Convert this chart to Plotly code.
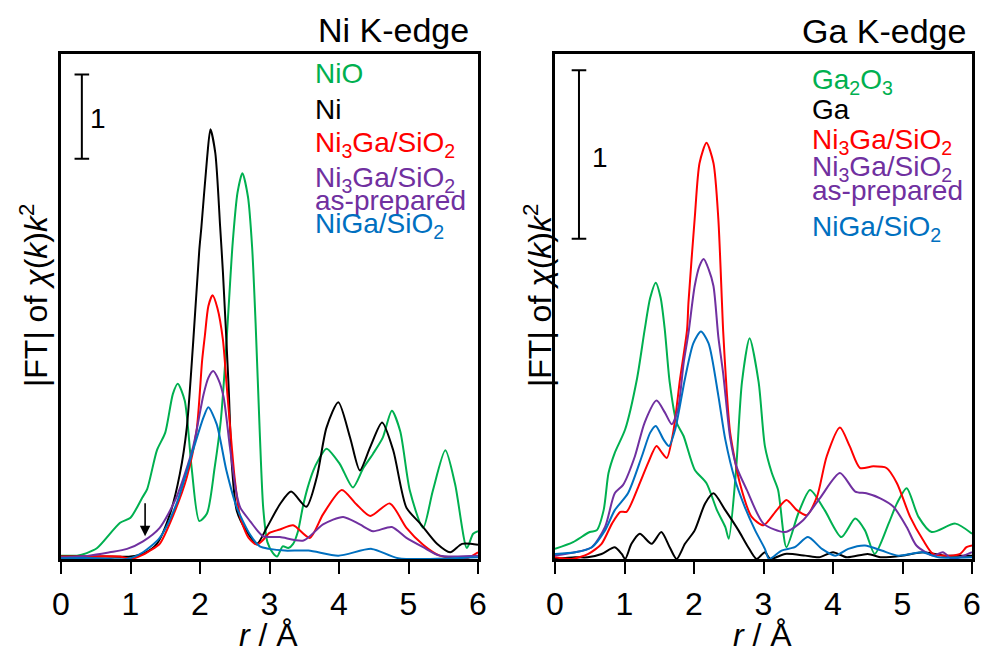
import plotly.graph_objects as go

# ---------------- Ni K-edge (left panel) ----------------
ni_nio_r = [0.0, 0.23, 0.37, 0.52, 0.85, 1.0, 1.17, 1.24, 1.38, 1.5, 1.61, 1.68, 1.78, 1.88, 1.99, 2.10,
            2.21, 2.30, 2.36, 2.42, 2.47, 2.54, 2.61, 2.69, 2.75, 2.80, 2.86, 2.91, 2.97, 3.05, 3.11, 3.19,
            3.27, 3.34, 3.41, 3.48, 3.55, 3.63, 3.70, 3.82, 4.01, 4.20, 4.35, 4.49, 4.63, 4.76, 4.88, 5.02,
            5.21, 5.35, 5.53, 5.67, 5.84, 5.93, 6.0]
ni_nio_y = [0.04, 0.04, 0.07, 0.13, 0.43, 0.49, 0.73, 0.83, 1.29, 1.50, 1.96, 2.08, 1.88, 1.08, 0.45, 0.54,
            1.08, 1.65, 2.30, 3.10, 3.75, 4.35, 4.58, 4.30, 3.70, 2.80, 1.50, 0.60, 0.20, 0.07, 0.03, 0.15,
            0.13, 0.18, 0.33, 0.62, 0.85, 1.05, 1.17, 1.31, 1.13, 0.85, 1.08, 1.25, 1.44, 1.76, 1.52, 0.81,
            0.37, 0.81, 1.29, 0.89, 0.13, 0.30, 0.33]

ni_ni_r = [0.0, 0.5, 1.0, 1.2, 1.38, 1.57, 1.71, 1.81, 1.90, 1.99, 2.02, 2.10, 2.15, 2.22, 2.29, 2.33,
           2.41, 2.46, 2.53, 2.67, 2.82, 2.96, 3.15, 3.31, 3.53, 3.68, 3.82, 3.99, 4.16, 4.30, 4.45, 4.62,
           4.78, 4.97, 5.17, 5.41, 5.60, 5.77, 6.0]
ni_ni_y = [0.03, 0.03, 0.03, 0.07, 0.18, 0.54, 1.01, 1.56, 2.55, 3.67, 3.94, 4.74, 5.10, 4.82, 3.94, 3.40,
           2.08, 1.10, 0.57, 0.33, 0.18, 0.37, 0.65, 0.80, 0.62, 0.97, 1.56, 1.86, 1.44, 1.05, 1.33, 1.62,
           1.29, 0.61, 0.42, 0.18, 0.08, 0.18, 0.17]

ni_ni3ga_r = [0.0, 0.5, 0.85, 1.0, 1.15, 1.28, 1.42, 1.62, 1.81, 1.95, 2.03, 2.07, 2.12, 2.18, 2.25, 2.33,
              2.38, 2.44, 2.50, 2.58, 2.70, 2.82, 2.90, 3.0, 3.15, 3.34, 3.58, 3.77, 4.04, 4.25, 4.45, 4.73,
              4.97, 5.21, 5.45, 5.81, 6.0]
ni_ni3ga_y = [0.03, 0.03, 0.03, 0.0, 0.04, 0.10, 0.18, 0.53, 0.97, 1.52, 2.35, 2.65, 3.00, 3.13, 2.98, 2.60,
              2.10, 1.50, 0.95, 0.49, 0.25, 0.17, 0.22, 0.31, 0.35, 0.40, 0.25, 0.53, 0.82, 0.65, 0.51, 0.66,
              0.37, 0.17, 0.04, 0.0, 0.08]

ni_asprep_r = [0.0, 0.4, 0.7, 0.95, 1.18, 1.42, 1.66, 1.90, 2.05, 2.12, 2.19, 2.27, 2.34, 2.43, 2.52, 2.58,
               2.72, 2.91, 3.15, 3.49, 3.77, 4.06, 4.30, 4.49, 4.76, 4.97, 5.21, 5.45, 6.0]
ni_asprep_y = [0.02, 0.04, 0.08, 0.12, 0.21, 0.37, 0.73, 1.33, 1.95, 2.15, 2.23, 2.12, 1.92, 1.33, 0.80, 0.61,
               0.45, 0.27, 0.26, 0.22, 0.41, 0.50, 0.41, 0.33, 0.38, 0.25, 0.14, 0.04, 0.04]

ni_niga_r = [0.0, 0.5, 0.95, 1.18, 1.42, 1.66, 1.90, 2.05, 2.12, 2.24, 2.38, 2.53, 2.72, 2.86, 3.0, 3.22,
             3.56, 3.99, 4.47, 4.85, 6.0]
ni_niga_y = [0.01, 0.01, 0.0, 0.08, 0.25, 0.65, 1.29, 1.68, 1.80, 1.60, 1.05, 0.61, 0.29, 0.15, 0.12, 0.10,
             0.10, 0.04, 0.12, 0.01, 0.02]

# ---------------- Ga K-edge (right panel) ----------------
ga_ga2o3_r = [0.0, 0.26, 0.5, 0.6, 0.70, 0.77, 0.86, 1.01, 1.18, 1.29, 1.37, 1.45, 1.52, 1.58, 1.65, 1.75,
              1.85, 2.01, 2.18, 2.33, 2.45, 2.50, 2.60, 2.69, 2.80, 2.93, 3.02, 3.12, 3.21, 3.33, 3.50, 3.67,
              3.88, 4.12, 4.32, 4.46, 4.60, 4.80, 4.92, 5.06, 5.23, 5.42, 5.76, 6.0]
ga_ga2o3_y = [0.06, 0.10, 0.16, 0.17, 0.29, 0.51, 0.63, 0.77, 1.07, 1.36, 1.55, 1.64, 1.55, 1.36, 1.05, 0.81,
              0.73, 0.53, 0.45, 0.29, 0.19, 0.12, 0.50, 1.05, 1.31, 1.05, 0.67, 0.51, 0.41, 0.07, 0.27, 0.41,
              0.29, 0.13, 0.24, 0.17, 0.03, 0.21, 0.33, 0.42, 0.25, 0.16, 0.21, 0.15]

ga_ga_r = [0.0, 0.29, 0.47, 0.67, 0.86, 0.96, 1.01, 1.10, 1.22, 1.39, 1.53, 1.65, 1.75, 1.87, 2.01, 2.16,
           2.28, 2.45, 2.64, 2.78, 2.90, 3.02, 3.10, 3.31, 3.60, 3.80, 4.0, 4.2, 4.5, 4.7, 5.0, 5.3, 5.6, 6.0]
ga_ga_y = [0.0, 0.01, 0.01, 0.03, 0.07, 0.03, 0.0, 0.09, 0.15, 0.09, 0.16, 0.07, 0.0, 0.09, 0.17, 0.33,
           0.39, 0.29, 0.17, 0.07, 0.0, 0.04, 0.0, 0.03, 0.02, 0.01, 0.04, 0.01, 0.03, 0.01, 0.02, 0.04, 0.02, 0.02]

ga_ni3ga_r = [0.0, 0.24, 0.48, 0.67, 0.82, 0.94, 1.03, 1.20, 1.34, 1.46, 1.54, 1.61, 1.70, 1.80, 1.90, 1.92,
              2.01, 2.08, 2.18, 2.28, 2.35, 2.42, 2.47, 2.52, 2.66, 2.83, 3.0, 3.19, 3.33, 3.48, 3.62, 3.77,
              3.91, 4.10, 4.24, 4.39, 4.58, 4.77, 4.92, 5.11, 5.30, 5.44, 5.68, 5.83, 5.92, 6.0]
ga_ni3ga_y = [0.01, 0.0, 0.03, 0.09, 0.21, 0.28, 0.28, 0.43, 0.57, 0.67, 0.63, 0.60, 0.75, 1.07, 1.36, 1.52,
              2.02, 2.35, 2.47, 2.35, 2.02, 1.35, 1.00, 0.75, 0.45, 0.25, 0.20, 0.29, 0.35, 0.29, 0.26, 0.37,
              0.61, 0.78, 0.67, 0.54, 0.55, 0.54, 0.45, 0.25, 0.11, 0.03, 0.02, 0.03, 0.07, 0.08]

ga_asprep_r = [0.0, 0.29, 0.53, 0.72, 0.86, 0.98, 1.15, 1.29, 1.46, 1.58, 1.68, 1.77, 1.85, 1.92, 2.01, 2.08,
               2.14, 2.21, 2.28, 2.35, 2.42, 2.52, 2.61, 2.76, 3.0, 3.31, 3.57, 3.81, 4.10, 4.32, 4.48, 4.68,
               4.87, 5.06, 5.20, 5.44, 5.58, 5.72, 6.0]
ga_asprep_y = [0.02, 0.04, 0.07, 0.19, 0.39, 0.44, 0.61, 0.81, 0.94, 0.87, 0.80, 0.89, 1.16, 1.34, 1.62, 1.74,
               1.78, 1.72, 1.62, 1.32, 1.10, 0.72, 0.55, 0.41, 0.21, 0.16, 0.23, 0.36, 0.51, 0.40, 0.39, 0.36,
               0.31, 0.19, 0.08, 0.02, 0.04, 0.0, 0.04]

ga_niga_r = [0.0, 0.29, 0.53, 0.72, 0.86, 1.05, 1.25, 1.37, 1.45, 1.56, 1.64, 1.73, 1.87, 1.99, 2.10, 2.21,
             2.35, 2.45, 2.59, 2.73, 2.88, 3.02, 3.08, 3.26, 3.45, 3.64, 3.84, 4.03, 4.22, 4.46, 4.70, 4.94,
             5.28, 5.52, 6.0]
ga_niga_y = [0.03, 0.04, 0.07, 0.17, 0.29, 0.39, 0.61, 0.75, 0.79, 0.71, 0.67, 0.77, 1.07, 1.28, 1.35, 1.28,
             0.97, 0.71, 0.47, 0.31, 0.17, 0.06, 0.0, 0.05, 0.07, 0.13, 0.06, 0.02, 0.06, 0.08, 0.05, 0.02,
             0.04, 0.01, 0.01]

x_ticks = [0, 1, 2, 3, 4, 5, 6]

GREEN = "#00B050"
BLACK = "#000000"
RED = "#FF0000"
PURPLE = "#7030A0"
BLUE = "#0070C0"
FONT = "Liberation Sans, Arial, sans-serif"

W, H = 986, 652


def px(x):
    return x / W


def py(y):
    return 1 - y / H


fig = go.Figure()

left_series = [
    (ni_nio_r, ni_nio_y, GREEN, "NiO"),
    (ni_ni_r, ni_ni_y, BLACK, "Ni"),
    (ni_ni3ga_r, ni_ni3ga_y, RED, "Ni3Ga/SiO2"),
    (ni_asprep_r, ni_asprep_y, PURPLE, "Ni3Ga/SiO2 as-prepared"),
    (ni_niga_r, ni_niga_y, BLUE, "NiGa/SiO2"),
]
right_series = [
    (ga_ga2o3_r, ga_ga2o3_y, GREEN, "Ga2O3"),
    (ga_ga_r, ga_ga_y, BLACK, "Ga"),
    (ga_ni3ga_r, ga_ni3ga_y, RED, "Ni3Ga/SiO2"),
    (ga_asprep_r, ga_asprep_y, PURPLE, "Ni3Ga/SiO2 as-prepared"),
    (ga_niga_r, ga_niga_y, BLUE, "NiGa/SiO2"),
]

for r, y, c, name in left_series:
    fig.add_trace(go.Scatter(x=r, y=y, mode="lines", name=name, xaxis="x", yaxis="y",
                             line=dict(color=c, width=2, shape="spline", smoothing=0.7),
                             showlegend=False))
for r, y, c, name in right_series:
    fig.add_trace(go.Scatter(x=r, y=y, mode="lines", name=name, xaxis="x2", yaxis="y2",
                             line=dict(color=c, width=2, shape="spline", smoothing=0.7),
                             showlegend=False))

ydom = [py(559), py(53.5)]
xaxis_common = dict(range=[0, 6], tickvals=x_ticks, ticks="outside", ticklen=12, tickwidth=2,
                    tickcolor="black", showline=True, mirror=True, linecolor="black", linewidth=2.5,
                    showgrid=False, zeroline=False, automargin=False, ticklabelstandoff=3,
                    tickfont=dict(family=FONT, size=32, color="black"))
yaxis_common = dict(showline=True, mirror=True, linecolor="black", linewidth=2.5, showgrid=False,
                    zeroline=False, showticklabels=False, ticks="", automargin=False)

fig.update_layout(
    width=W, height=H, margin=dict(l=0, r=0, t=0, b=0, pad=0),
    paper_bgcolor="white", plot_bgcolor="white",
    xaxis=dict(domain=[px(61), px(478)], anchor="y", **xaxis_common),
    yaxis=dict(domain=ydom, range=[0, 6.0], anchor="x", **yaxis_common),
    xaxis2=dict(domain=[px(555), px(972)], anchor="y2", **xaxis_common),
    yaxis2=dict(domain=ydom, range=[0, 3.0], anchor="x2", **yaxis_common),
    font=dict(family=FONT, color="black"),
)


# scale bars (one unit of |FT|)
def scale_bar(xr, yr, xc, half, y0, y1):
    style = dict(color="black", width=2)
    return [
        dict(type="line", xref=xr, yref=yr, x0=xc, x1=xc, y0=y0, y1=y1, line=style),
        dict(type="line", xref=xr, yref=yr, x0=xc - half, x1=xc + half, y0=y0, y1=y0, line=style),
        dict(type="line", xref=xr, yref=yr, x0=xc - half, x1=xc + half, y0=y1, y1=y1, line=style),
    ]


shapes = scale_bar("x", "y", 0.30, 0.105, 4.75, 5.75) + scale_bar("x2", "y2", 0.345, 0.105, 1.9, 2.9)
fig.update_layout(shapes=shapes)

ann = []


def text(x, y, s, color="black", size=28, xanchor="left", yanchor="middle", angle=0):
    ann.append(dict(x=px(x), y=py(y), xref="paper", yref="paper", text=s, showarrow=False,
                    xanchor=xanchor, yanchor=yanchor, textangle=angle,
                    font=dict(family=FONT, size=size, color=color)))


# panel titles
text(471, 30, "Ni K-edge", size=34, xanchor="right")
text(968, 31, "Ga K-edge", size=34, xanchor="right")

# scale bar labels
text(88, 119, "1", size=28)
text(590, 158, "1", size=28)

# left legend
lx = 313
text(lx, 73, "NiO", GREEN)
text(lx, 109, "Ni", BLACK)
text(lx, 145, "Ni<sub>3</sub>Ga/SiO<sub>2</sub>", RED)
text(lx, 179, "Ni<sub>3</sub>Ga/SiO<sub>2</sub>", PURPLE)
text(lx, 200, "as-prepared", PURPLE)
text(lx, 225, "NiGa/SiO<sub>2</sub>", BLUE)

# right legend
rx = 810
text(rx, 82, "Ga<sub>2</sub>O<sub>3</sub>", GREEN)
text(rx, 109, "Ga", BLACK)
text(rx, 142, "Ni<sub>3</sub>Ga/SiO<sub>2</sub>", RED)
text(rx, 169, "Ni<sub>3</sub>Ga/SiO<sub>2</sub>", PURPLE)
text(rx, 191, "as-prepared", PURPLE)
text(rx, 228, "NiGa/SiO<sub>2</sub>", BLUE)

# axis titles
ytitle = "|FT| of <i>χ</i>(<i>k</i>)<i>k</i><sup>2</sup>"
text(34, 296, ytitle, size=32, xanchor="center", angle=-90)
text(538, 296, ytitle, size=32, xanchor="center", angle=-90)
text(268, 635, "<i>r</i> / Å", size=32, xanchor="center")
text(762, 635, "<i>r</i> / Å", size=32, xanchor="center")

# arrow marking the pre-peak shoulder
ann.append(dict(x=1.21, y=0.27, ax=1.21, ay=0.68, xref="x", yref="y", axref="x", ayref="y",
                text="", showarrow=True, arrowhead=2, arrowsize=1.3, arrowwidth=1.6, arrowcolor="black"))

fig.update_layout(annotations=ann)

fig.write_html("out.html")
